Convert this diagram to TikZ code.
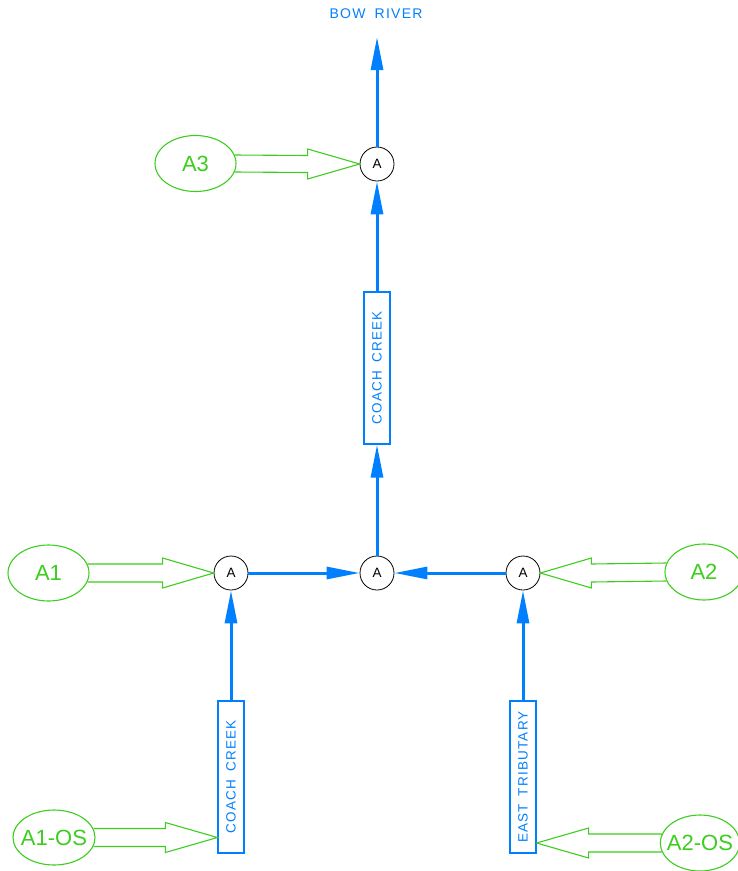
\documentclass[tikz,border=0pt]{standalone}
\usepackage{fontspec}
\setmainfont{Liberation Sans}
\newfontfamily\cadfont[LetterSpace=9]{Liberation Sans}
\usetikzlibrary{shapes.geometric,arrows.meta,calc}
\definecolor{cadblue}{RGB}{0,128,255}
\definecolor{cadgreen}{RGB}{60,205,30}
\tikzset{
  junction/.style={circle,draw=black,line width=0.8pt,minimum size=34pt,inner sep=0pt,font=\fontsize{13.5}{13.5}\selectfont},
  basin/.style={ellipse,draw=cadgreen,line width=1.1pt,text=cadgreen,inner sep=0pt,font=\fontsize{22}{22}\selectfont},
  reach/.style={rectangle,draw=cadblue,line width=1.2pt,text=cadblue,inner sep=0pt,minimum width=26pt,minimum height=152pt},
  barrow/.style={draw=cadblue,line width=3pt,-{Triangle[length=33pt,width=12pt]}},
  garrow/.style={draw=cadgreen,line width=1.1pt,line join=miter}
}
\newcommand{\reachtext}[1]{\rotatebox{90}{\cadfont\fontsize{13.5}{13.5}\selectfont #1}}
\begin{document}
\begin{tikzpicture}[x=1pt,y=-1pt]
\useasboundingbox (0,0) rectangle (738,871);
\clip (0,0) rectangle (738,871);
% title
\node[text=cadblue,font=\cadfont\fontsize{14}{14}\selectfont] (bowtxt) at (376,14) {BOW\hspace{4pt} RIVER};
\coordinate (bow) at (377,37);
% junctions
\node[junction] (c3) at (377,164) {A};
\node[junction] (cL) at (231,573) {A};
\node[junction] (cC) at (377,573) {A};
\node[junction] (cR) at (523,573) {A};
% reaches
\node[reach] (rT) at (377,368) {\reachtext{COACH\hspace{3pt} CREEK}};
\node[reach] (rL) at (231,777) {\reachtext{COACH\hspace{3pt} CREEK}};
\node[reach] (rR) at (523,777) {\reachtext{EAST\hspace{3pt} TRIBUTARY}};
% basins
\node[basin,minimum width=81pt,minimum height=56pt] (e3) at (195.5,163.5) {A3};
\node[basin,minimum width=81pt,minimum height=56pt] (e1) at (48.5,573) {A1};
\node[basin,minimum width=78pt,minimum height=56pt] (e2) at (704,572) {A2};
\node[basin,inner xsep=-5pt,minimum width=82pt,minimum height=55pt] (e1os) at (54,837.5) {A1-OS};
\node[basin,inner xsep=-5pt,minimum width=78pt,minimum height=56pt] (e2os) at (700,843) {A2-OS};
% blue connectors
\draw[barrow] (c3) -- (bow);
\draw[barrow] (rT) -- (c3);
\draw[barrow] (cC) -- (rT);
\draw[barrow] (cL) -- (cC);
\draw[barrow] (cR) -- (cC);
\draw[barrow] (rL) -- (cL);
\draw[barrow] (rR) -- (cR);
% green hollow arrows
\draw[garrow] ($(e3.east)+(-2,-8.5)$) -- ($(c3.west)+(-52,-8.5)$) -- ($(c3.west)+(-52,-15)$) -- (c3.west)
  -- ($(c3.west)+(-52,15)$) -- ($(c3.west)+(-52,8.5)$) -- ($(e3.east)+(-2,8.5)$);
\draw[garrow] ($(e1.east)+(-2,-9)$) -- ($(cL.west)+(-51,-9)$) -- ($(cL.west)+(-51,-15)$) -- (cL.west)
  -- ($(cL.west)+(-51,15)$) -- ($(cL.west)+(-51,9)$) -- ($(e1.east)+(-2,9)$);
\draw[garrow] ($(e2.west)+(2,-9)$) -- ($(cR.east)+(51,-9)$) -- ($(cR.east)+(51,-15)$) -- (cR.east)
  -- ($(cR.east)+(51,15)$) -- ($(cR.east)+(51,9)$) -- ($(e2.west)+(2,9)$);
\coordinate (t1) at (rL.west |- e1os.center);
\draw[garrow] ($(e1os.east)+(-2,-9)$) -- ($(t1)+(-52,-9)$) -- ($(t1)+(-52,-15)$) -- (t1)
  -- ($(t1)+(-52,15)$) -- ($(t1)+(-52,9)$) -- ($(e1os.east)+(-2,9)$);
\coordinate (t2) at (rR.east |- e2os.center);
\draw[garrow] ($(e2os.west)+(2,-9)$) -- ($(t2)+(52,-9)$) -- ($(t2)+(52,-15)$) -- (t2)
  -- ($(t2)+(52,15)$) -- ($(t2)+(52,9)$) -- ($(e2os.west)+(2,9)$);
\end{tikzpicture}
\end{document}
